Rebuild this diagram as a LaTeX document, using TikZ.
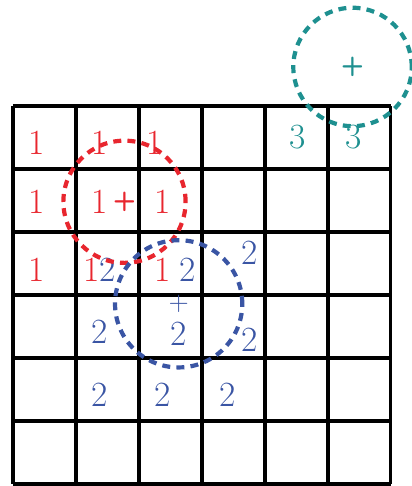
\documentclass[tikz,border=0pt]{standalone}
\usepackage{tikz}
\usetikzlibrary{positioning}
\definecolor{clred}{HTML}{E8262E}
\definecolor{clblue}{HTML}{3A55A4}
\definecolor{clteal}{HTML}{1E9090}
\tikzset{
  boardline/.style={line width=1.4pt,black},
  num/.style={font=\fontsize{16}{16}\selectfont,text=#1,inner sep=0pt},
  num/.default={clred},
  centre/.style={font=\sffamily\bfseries\large,text=#1,inner sep=0pt},
  reach/.style={line width=1.9pt,dash pattern=on 3.6pt off 2.8pt,#1},
}

\begin{document}
\begin{tikzpicture}
  \useasboundingbox (-0.206,-0.032) rectangle (6.333,7.683);
  \draw[boardline] (0,0) grid (6,6);
  % cluster 1
  \node[num] (r1) at (0.38,5.41) {1};
  \node[num] (r2) at (1.38,5.41) {1};
  \node[num] (r3) at (2.25,5.41) {1};
  \node[num] (r4) at (0.38,4.48) {1};
  \node[num] (r5) at (1.38,4.48) {1};
  \node[num] (r6) at (2.38,4.48) {1};
  \node[num] (r7) at (0.38,3.40) {1};
  \node[num] (r8) at (1.25,3.40) {1};
  \node[num] (r9) at (2.38,3.40) {1};
  % cluster 2
  \node[num=clblue] (b1) at (1.51,3.40) {2};
  \node[num=clblue] (b2) at (2.78,3.40) {2};
  \node[num=clblue] (b3) at (3.76,3.67) {2};
  \node[num=clblue] (b4) at (1.38,2.41) {2};
  \node[num=clblue] (b5) at (2.63,2.38) {2};
  \node[num=clblue] (b6) at (3.76,2.29) {2};
  \node[num=clblue] (b7) at (1.38,1.41) {2};
  \node[num=clblue] (b8) at (2.38,1.41) {2};
  \node[num=clblue] (b9) at (3.40,1.41) {2};
  % cluster 3
  \node[num=clteal] (t1) at (4.52,5.51) {3};
  \node[num=clteal] (t2) at (5.40,5.51) {3};
  % centres
  \node[centre=clred] (redc) at (1.77,4.48) {+};
  \node[centre=clblue,font=\sffamily\large] (bluec) at (2.63,2.86) {+};
  \node[centre=clteal] (tealc) at (5.39,6.62) {+};
  \draw[reach=clred] (redc) circle (0.97);
  \draw[reach=clblue] (bluec) circle (1.01);
  \draw[reach=clteal] (tealc) circle (0.94);
\end{tikzpicture}
\end{document}
